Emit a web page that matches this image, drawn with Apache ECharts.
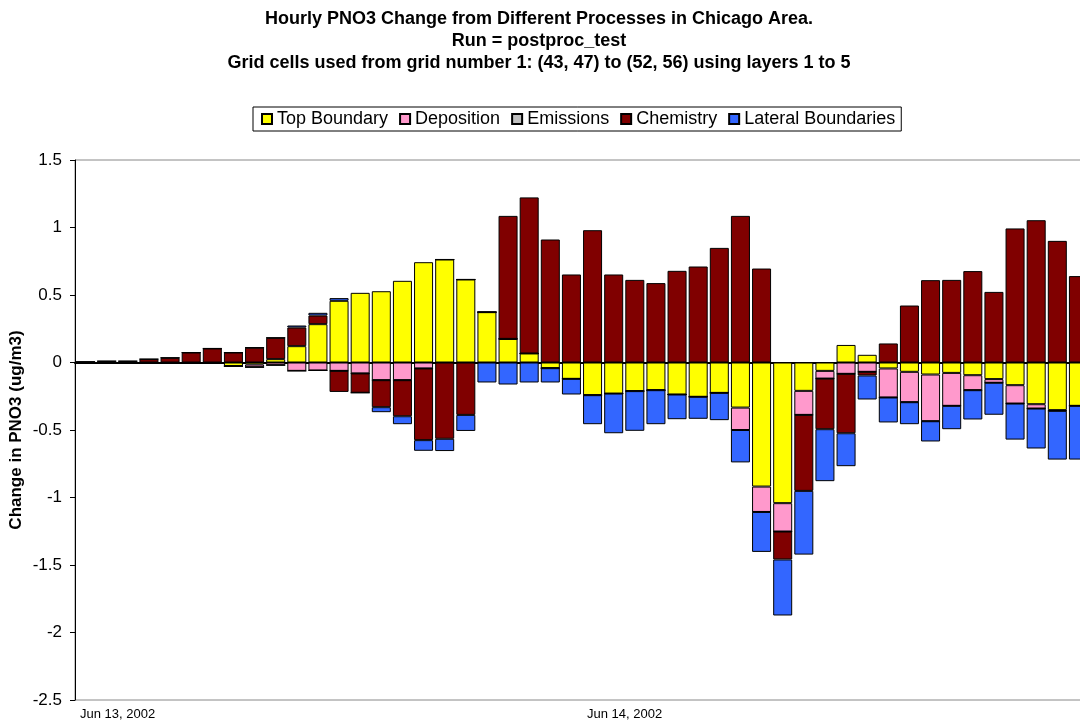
<!DOCTYPE html>
<html>
<head>
<meta charset="utf-8">
<script src="https://cdn.jsdelivr.net/npm/echarts@6/dist/echarts.min.js"></script>
<style>
  html, body { margin: 0; padding: 0; background: #fff; }
  #chart { width: 1080px; height: 726px; }
</style>
</head>
<body>
<div id="chart"></div>
<script>
// Hours from Jun 13, 2002 00:00 to Jun 14, 2002 23:00
const hours = [];
for (let d = 13; d <= 14; d++) {
  for (let h = 0; h < 24; h++) {
    hours.push('2002-06-' + d + ' ' + String(h).padStart(2, '0') + ':00');
  }
}
const dayLabels = ['Jun 13, 2002', 'Jun 14, 2002'];
const yTicks = { min: -2.5, max: 1.5, step: 0.5 };

// Hourly PNO3 change per process (ug/m3)
const topBoundary = [
  0, 0, 0, 0, 0, 0, -0.005, -0.027, -0.015, 0.025, 0.121, 0.284,
  0.457, 0.516, 0.528, 0.605, 0.743, 0.763, 0.615, 0.373, 0.175, 0.067, -0.042, -0.121,
  -0.242, -0.23, -0.212, -0.205, -0.237, -0.254, -0.225, -0.334, -0.919, -1.042, -0.21, -0.062,
  0.13, 0.057, -0.044, -0.069, -0.089, -0.077, -0.094, -0.123, -0.168, -0.309, -0.353, -0.321
];
const deposition = [
  0, 0, 0, 0, 0, 0, 0, 0, -0.02, -0.02, -0.062, -0.059,
  -0.062, -0.081, -0.131, -0.131, -0.044, 0, 0, 0, 0, 0, 0, 0,
  0, 0, 0, 0, 0, 0, 0, -0.166, -0.188, -0.21, -0.178, -0.057,
  -0.084, -0.069, -0.215, -0.225, -0.346, -0.244, -0.111, -0.027, -0.136, -0.032, -0.005, 0
];
const emissions = [
  0, 0, 0, 0, 0, 0, 0, 0, 0, 0, 0, 0,
  0, 0, 0, 0, 0, 0, 0, 0, 0, 0, 0, 0,
  0, 0, 0, 0, 0, 0, 0, 0, 0, 0, 0, 0,
  0, 0, 0, 0, 0, 0, 0, 0, 0, 0, 0, 0
];
const chemistry = [
  0.005, 0.01, 0.01, 0.025, 0.035, 0.074, 0.104, 0.074, 0.11, 0.158, 0.138, 0.064,
  -0.156, -0.143, -0.2, -0.267, -0.531, -0.565, -0.388, 0, 0.911, 1.156, 0.911, 0.652,
  0.98, 0.652, 0.612, 0.588, 0.679, 0.711, 0.849, 1.086, 0.696, -0.207, -0.563, -0.375,
  -0.44, -0.027, 0.141, 0.422, 0.61, 0.612, 0.677, 0.523, 0.993, 1.054, 0.901, 0.64
];
const lateralBoundaries = [
  0, 0, 0, 0, 0, 0, 0, 0, 0, 0, 0.015, 0.02,
  0.02, 0, -0.037, -0.059, -0.079, -0.091, -0.119, -0.148, -0.163, -0.148, -0.106, -0.116,
  -0.215, -0.294, -0.294, -0.252, -0.183, -0.163, -0.202, -0.24, -0.296, -0.415, -0.472, -0.385,
  -0.244, -0.178, -0.185, -0.163, -0.15, -0.173, -0.217, -0.237, -0.267, -0.296, -0.361, -0.398
];

const processes = [
  { name: 'Top Boundary', data: topBoundary, color: '#FFFF00' },
  { name: 'Deposition', data: deposition, color: '#FF99CC' },
  { name: 'Emissions', data: emissions, color: '#C0C0C0' },
  { name: 'Chemistry', data: chemistry, color: '#800000' },
  { name: 'Lateral Boundaries', data: lateralBoundaries, color: '#3366FF' }
];

const FONT = 'Arial, "Liberation Sans", sans-serif';
const chart = echarts.init(document.getElementById('chart'), null, { renderer: 'canvas' });

const option = {
  backgroundColor: '#ffffff',
  animation: false,
  textStyle: { fontFamily: FONT, color: '#000' },
  title: {
    text: 'Hourly PNO3 Change from Different Processes in Chicago Area.\nRun = postproc_test\nGrid cells used from grid number 1: (43, 47) to (52, 56) using layers 1 to 5',
    left: 534,
    top: 3,
    textAlign: 'center',
    textStyle: { fontFamily: FONT, fontSize: 18, fontWeight: 'bold', color: '#000', lineHeight: 22 }
  },
  legend: {
    left: 253,
    top: 107,
    itemWidth: 10,
    itemHeight: 10,
    itemGap: 11,
    padding: [3, 6, 3, 8],
    borderColor: '#000',
    borderWidth: 1,
    icon: 'rect',
    textStyle: { fontFamily: FONT, fontSize: 18, color: '#000' },
    data: processes.map(p => p.name)
  },
  grid: {
    left: 75,
    top: 160,
    width: 1014,
    height: 540,
    show: true,
    borderColor: '#888',
    borderWidth: 1,
    backgroundColor: '#fff',
    containLabel: false,
    outerBoundsMode: 'none'
  },
  xAxis: [
    {
      // hourly categories the bars sit on; its line marks zero
      type: 'category',
      data: hours,
      boundaryGap: true,
      axisLine: { show: true, onZero: true, lineStyle: { color: '#000', width: 2 } },
      axisTick: { show: false },
      axisLabel: { show: false },
      splitLine: {
        show: true,
        interval: (i) => i % 24 === 0 && i > 0,
        lineStyle: { color: '#777', width: 1 }
      }
    },
    {
      // hours elapsed, used for the day labels along the bottom edge
      type: 'value',
      min: 0,
      max: hours.length,
      interval: 24,
      position: 'bottom',
      axisLine: { show: false, onZero: false },
      axisTick: { show: false },
      splitLine: { show: false },
      axisLabel: {
        show: true,
        align: 'left',
        margin: 8,
        padding: [0, 0, 0, 5],
        fontFamily: FONT,
        fontSize: 13,
        color: '#000',
        formatter: (v) => dayLabels[Math.round(v / 24)] || ''
      }
    }
  ],
  yAxis: {
    type: 'value',
    min: yTicks.min,
    max: yTicks.max,
    interval: yTicks.step,
    name: 'Change in PNO3 (ug/m3)',
    nameLocation: 'middle',
    nameRotate: 90,
    nameGap: 50,
    nameMoveOverlap: false,
    nameTextStyle: { fontFamily: FONT, fontSize: 17, fontWeight: 'bold', color: '#000' },
    axisLine: { show: true, lineStyle: { color: '#000', width: 1 } },
    axisTick: { show: true, length: 5, lineStyle: { color: '#000' } },
    axisLabel: { fontFamily: FONT, fontSize: 17, color: '#000', margin: 13 },
    splitLine: { show: false }
  },
  series: processes.map(p => ({
    name: p.name,
    type: 'bar',
    stack: 'total',
    xAxisIndex: 0,
    data: p.data,
    barCategoryGap: '10%',
    itemStyle: { color: p.color, borderColor: '#000', borderWidth: 1 },
    emphasis: { disabled: true }
  }))
};

chart.setOption(option);
</script>
</body>
</html>
